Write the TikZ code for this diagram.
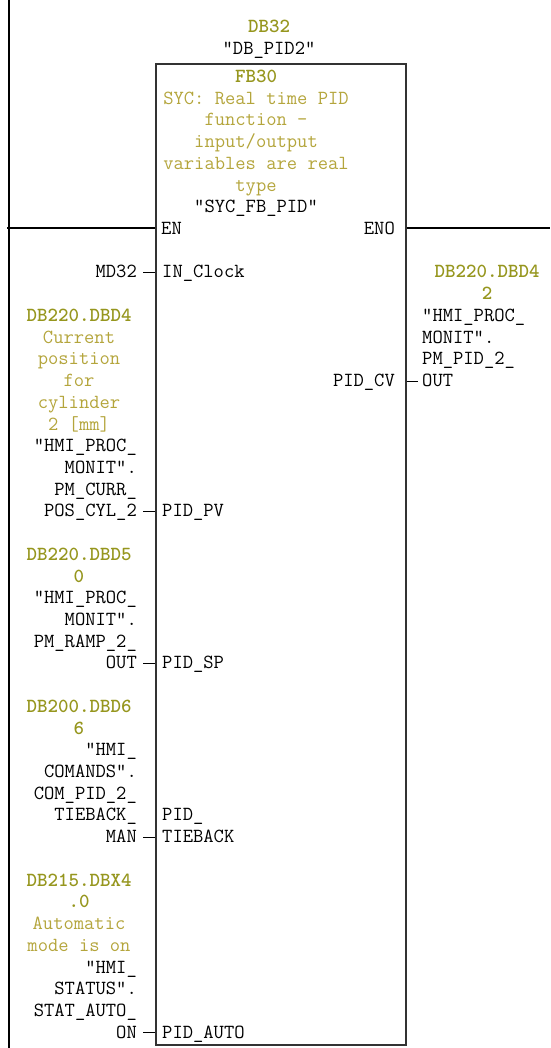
\documentclass[tikz,border=0pt]{standalone}
\usepackage{fontspec}
\definecolor{addrcol}{RGB}{150,150,30}
\definecolor{cmtcol}{RGB}{180,165,60}
\newcommand{\addr}[1]{{\bfseries\color{addrcol}#1}}
\newcommand{\cmt}[1]{{\color{cmtcol}#1}}
\begin{document}
\begin{tikzpicture}[
        x=1pt, y=-1pt,
        font=\ttfamily\fontsize{20}{21.72}\selectfont,
        txt/.style={inner sep=0pt, align=center, anchor=base},
        lbl/.style={inner sep=0pt, align=right, anchor=base east},
        rlbl/.style={inner sep=0pt, align=left, anchor=base west},
        fbbox/.style={draw=black!80, line width=1.4pt, minimum width=250pt, minimum height=981pt, inner sep=0pt},
        wire/.style={line width=1.2pt}
    ]
        \useasboundingbox (0,0) rectangle (550,1048);

        % power rail and enable lines
        \coordinate (railtop) at (9,0);
        \coordinate (railbot) at (9,1048);
        \draw[wire] (railtop) -- (railbot);

        \node[txt] (inst) at (269,54.5) {\addr{DB32}\\"DB\_PID2"};
        \node[fbbox] (fb) at (281,554.5) {};
        \node[txt] (fbtitle) at (256,212.8) {\addr{FB30}\\\cmt{SYC: Real time PID}\\\cmt{function -}\\\cmt{input/output}\\\cmt{variables are real}\\\cmt{type}\\"SYC\_FB\_PID"};

        \coordinate (enL) at (7,228);
        \coordinate (enoR) at (550,228);
        \draw[wire] (enL) -- (enL -| fb.west);
        \draw[wire] (fb.east |- enoR) -- (enoR);
        \node[rlbl] (en) at (161,234.5) {EN};
        \node[lbl] (eno) at (395,234.5) {ENO};

        % inputs
        \node[lbl] (mdsym) at (137,278.0) {MD32};
        \node[rlbl] (inclk) at (162,278.0) {IN\_Clock};
        \coordinate (mdpin) at (143,272.5);
        \draw[wire] (mdpin) -- (mdpin -| fb.west);

        \node[txt] (pvaddr) at (79,430.0) {\addr{DB220.DBD4}\\\cmt{Current}\\\cmt{position}\\\cmt{for}\\\cmt{cylinder}\\\cmt{2 [mm]}};
        \node[lbl] (pvsym) at (137,516.9) {"HMI\_PROC\_\\MONIT".\\PM\_CURR\_\\POS\_CYL\_2};
        \node[rlbl] (pidpv) at (162,516.9) {PID\_PV};
        \coordinate (pvpin) at (143,511.4);
        \draw[wire] (pvpin) -- (pvpin -| fb.west);

        \node[txt] (spaddr) at (79,582.1) {\addr{DB220.DBD5}\\\addr{0}};
        \node[lbl] (spsym) at (137,668.9) {"HMI\_PROC\_\\MONIT".\\PM\_RAMP\_2\_\\OUT};
        \node[rlbl] (pidsp) at (162,668.9) {PID\_SP};
        \coordinate (sppin) at (143,663.4);
        \draw[wire] (sppin) -- (sppin -| fb.west);

        \node[txt] (tbaddr) at (79,734.1) {\addr{DB200.DBD6}\\\addr{6}};
        \node[lbl] (tbsym) at (137,842.7) {"HMI\_\\COMANDS".\\COM\_PID\_2\_\\TIEBACK\_\\MAN};
        \node[rlbl] (pidtb) at (162,842.7) {PID\_\\TIEBACK};
        \coordinate (tbpin) at (143,837.2);
        \draw[wire] (tbpin) -- (tbpin -| fb.west);

        \node[txt] (autoaddr) at (79,951.3) {\addr{DB215.DBX4}\\\addr{.0}\\\cmt{Automatic}\\\cmt{mode is on}};
        \node[lbl] (autosym) at (137,1038.2) {"HMI\_\\STATUS".\\STAT\_AUTO\_\\ON};
        \node[rlbl] (pidauto) at (162,1038.2) {PID\_AUTO};
        \coordinate (autopin) at (143,1032.7);
        \draw[wire] (autopin) -- (autopin -| fb.west);

        % output
        \node[txt] (cvaddr) at (487,299.7) {\addr{DB220.DBD4}\\\addr{2}};
        \node[rlbl] (cvsym) at (422,386.6) {"HMI\_PROC\_\\MONIT".\\PM\_PID\_2\_\\OUT};
        \node[lbl] (pidcv) at (395,386.6) {PID\_CV};
        \coordinate (cvpin) at (418,381.1);
        \draw[wire] (fb.east |- cvpin) -- (cvpin);
    \end{tikzpicture}
\end{document}
